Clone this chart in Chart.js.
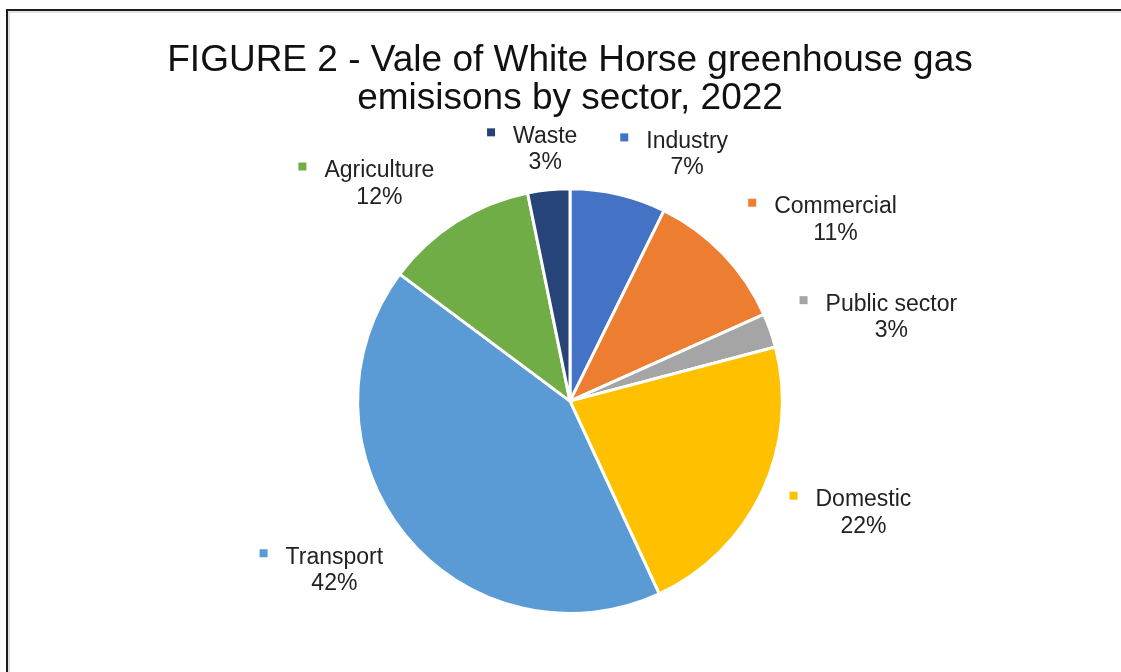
<!DOCTYPE html>
<html>
<head>
<meta charset="utf-8">
<title>Vale of White Horse greenhouse gas emissions by sector, 2022</title>
<script src="https://cdn.jsdelivr.net/npm/chart.js@4.4.1/dist/chart.umd.min.js"></script>
<style>
    html, body { margin: 0; padding: 0; background: #fff; overflow: hidden; }
    #frame {
        position: absolute; left: 6px; top: 9px; width: 1300px; height: 900px;
        border: 2px solid #1c1c1c; box-shadow: inset 2px 2px 0 #e2e2e2;
    }
    #chart { position: absolute; left: 0; top: 0; }
</style>
</head>
<body>
<div id="frame"></div>
<canvas id="chart" width="1121" height="672"></canvas>
<script>
/* Sector pie (percent of total) */

var sectors = ['Industry', 'Commercial', 'Public sector', 'Domestic', 'Transport', 'Agriculture', 'Waste'];
var shares = [7.3, 11.0, 2.6, 22.2, 42.1, 11.6, 3.2];
var sectorColors = ['#4472C4', '#ED7D31', '#A5A5A5', '#FFC000', '#5B9BD5', '#70AD47', '#264478'];
var titleLines = ['FIGURE 2 - Vale of White Horse greenhouse gas', 'emisisons by sector, 2022'];

// label placement: shift from a point on the slice's mid-angle ray
var labelNudge = [[52, 26], [59, 11], [51, 5], [34, -17], [-13, -18], [-37, 18], [4, 27]];

var FONT = '"Liberation Sans", Arial, sans-serif';

var sliceLabels = {
    id: 'sliceLabels',
    afterDatasetsDraw: function (chart) {
        var ctx = chart.ctx;
        var meta = chart.getDatasetMeta(0);
        var total = shares.reduce(function (a, b) { return a + b; }, 0);
        ctx.save();
        ctx.font = '23px ' + FONT;
        ctx.textAlign = 'center';
        ctx.textBaseline = 'alphabetic';
        meta.data.forEach(function (arc, i) {
            var p = arc.getProps(['x', 'y', 'startAngle', 'endAngle', 'outerRadius'], true);
            var mid = (p.startAngle + p.endAngle) / 2;
            var dist = p.outerRadius * 1.35;
            var x = p.x + Math.cos(mid) * dist + labelNudge[i][0];
            var y = p.y + Math.sin(mid) * dist + labelNudge[i][1];
            var name = sectors[i];
            var pct = Math.round(shares[i] / total * 100) + '%';
            var w = ctx.measureText(name).width;

            ctx.fillStyle = sectorColors[i];
            ctx.fillRect(x - w / 2 - 26, y - 14.5, 8, 8);

            ctx.fillStyle = '#222';
            ctx.fillText(name, x, y);
            ctx.fillText(pct, x, y + 26.5);
        });
        ctx.restore();
    }
};

new Chart(document.getElementById('chart'), {
    type: 'pie',
    data: {
        labels: sectors,
        datasets: [{
            data: shares,
            backgroundColor: sectorColors,
            borderColor: '#ffffff',
            borderWidth: 3
        }]
    },
    options: {
        responsive: false,
        animation: false,
        devicePixelRatio: 1,
        layout: { padding: { top: 0, bottom: 57, left: 19, right: 0 } },
        plugins: {
            legend: { display: false },
            tooltip: { enabled: false },
            title: {
                display: true,
                text: titleLines,
                color: '#111',
                font: { family: FONT, size: 37, weight: 'normal', lineHeight: 1.03 },
                padding: { top: 42, bottom: 69 }
            }
        }
    },
    plugins: [sliceLabels]
});
</script>
</body>
</html>
